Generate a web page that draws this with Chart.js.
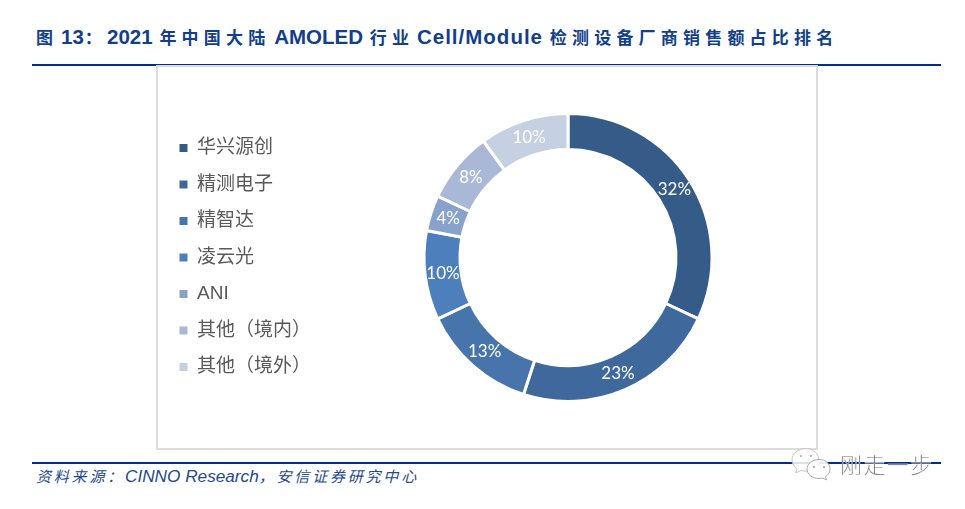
<!DOCTYPE html>
<html>
<head>
<meta charset="utf-8">
<script src="https://cdn.jsdelivr.net/npm/chart.js@4"></script>
<style>
html, body { margin: 0; padding: 0; background: #fff; }
#page { position: relative; width: 965px; height: 509px; overflow: hidden; }
.rule { position: absolute; left: 32px; width: 909px; height: 2px; background: #002e8f; }
#title { position: absolute; left: 36px; top: 24px; white-space: nowrap; color: #123f8b; font: bold 10px 'Liberation Sans', 'Noto Sans CJK SC'; line-height: 26px; }
#title .c { font-size: 17px; letter-spacing: 5.2px; }
#title .l { font-size: 20.5px; margin-right: 4px; }
#box { position: absolute; left: 156px; top: 65px; width: 658px; height: 381px; border: 2px solid #dcdcdc; background: #fff; }
canvas { display: block; }
#source { position: absolute; left: 36px; top: 465px; white-space: nowrap; color: #24498f; font: italic 17.2px 'Liberation Sans', 'Noto Sans CJK SC'; line-height: 22px; }
#source .c { font-size: 15px; letter-spacing: 2.8px; }
#mark { position: absolute; left: 840px; top: 448px; color: #555; font: 300 22px 'Noto Sans CJK SC'; letter-spacing: 1.4px; line-height: 30px; -webkit-text-stroke: 0.3px #fff; white-space: nowrap; }
#icon { position: absolute; left: 790px; top: 446px; }
</style>
</head>
<body>
<div id="page">
  <div id="title"><span class="c">图</span> <span class="l" style="margin:0 1px 0 0">13</span><span class="c">：</span><span class="l">2021</span> <span class="c">年中国大陆</span> <span class="l" style="margin-left:1px">AMOLED</span> <span class="c">行业</span> <span class="l" style="letter-spacing:1px">Cell/Module</span> <span class="c">检测设备厂商销售额占比排名</span></div>
  <div class="rule" style="top:64px"></div>
  <div id="box"><canvas id="pieChart" width="670" height="381"></canvas></div>
  <div class="rule" style="top:462px"></div>
  <div id="source"><span class="c">资料来源：</span>CINNO Research<span class="c">，安信证券研究中心</span></div>
  <svg id="icon" width="44" height="38" viewBox="0 0 44 38">
    <path d="M16 2.500c-8 0-14 5-14 11.500 0 3.600 2 6.600 5 8.800l-1.200 4.200 5-2.500c1.600.4 3.300.6 5 .6 8 0 13-5 13-11s-5-11.600-12.800-11.600z" fill="rgba(255,255,255,.85)" stroke="#c4c4c4" stroke-width="1"/>
    <path d="M29 13.500c-6.800 0-12 4.300-12 9.500s5.200 9.500 12 9.500c1.300 0 2.500-.2 3.700-.5l3.800 2-1-3.300c2.800-1.800 4.500-4.600 4.500-7.700 0-5.200-4.200-9.500-11-9.500z" fill="rgba(255,255,255,.9)" stroke="#a8a8a8" stroke-width="1"/>
    <circle cx="11" cy="10" r="1" fill="#aaa"/><circle cx="21" cy="10" r="1" fill="#aaa"/>
    <circle cx="24" cy="21" r="1" fill="#999"/><circle cx="34" cy="21" r="1" fill="#999"/>
  </svg>
  <div id="mark">刚走一步</div>
</div>
<script>
// Grafik verileri
const categories = ['华兴源创', '精测电子', '精智达', '凌云光', 'ANI', '其他（境内）', '其他（境外）'];
const shares = [32, 23, 13, 10, 4, 8, 10];
const sliceColors = ['#355b88', '#3f699c', '#4774ab', '#4d7fbc', '#89a2cb', '#a9b8d7', '#c5d0e2'];

// Dilim etiketleri
const sliceLabels = {
    id: 'sliceLabels',
    afterDatasetsDraw(chart) {
        const ctx = chart.ctx;
        ctx.save();
        ctx.fillStyle = '#fff';
        ctx.font = "17px Lato";
        ctx.textAlign = 'center';
        ctx.textBaseline = 'middle';
        chart.getDatasetMeta(0).data.forEach((arc, i) => {
            const p = arc.getCenterPoint();
            ctx.fillText(shares[i] + '%', p.x, p.y);
        });
        ctx.restore();
    }
};

const ctx = document.getElementById('pieChart').getContext('2d');
new Chart(ctx, {
    type: 'doughnut',
    data: {
        labels: categories,
        datasets: [{
            data: shares,
            backgroundColor: sliceColors,
            borderColor: '#fff',
            borderWidth: 3
        }]
    },
    options: {
        responsive: false,
        animation: false,
        cutout: '75%',
        layout: { padding: { left: 4, right: 13, top: 45, bottom: 45 } },
        plugins: {
            tooltip: { enabled: false },
            legend: {
                position: 'left',
                labels: {
                    boxWidth: 8,
                    boxHeight: 8,
                    padding: 17.5,
                    color: '#595959',
                    font: { size: 19, family: "'Liberation Sans', 'Noto Sans CJK SC'" },
                    generateLabels: chart => Chart.overrides.doughnut.plugins.legend.labels.generateLabels(chart).map(l => ({ ...l, lineWidth: 0 }))
                }
            }
        }
    },
    plugins: [sliceLabels]
});
</script>
</body>
</html>
